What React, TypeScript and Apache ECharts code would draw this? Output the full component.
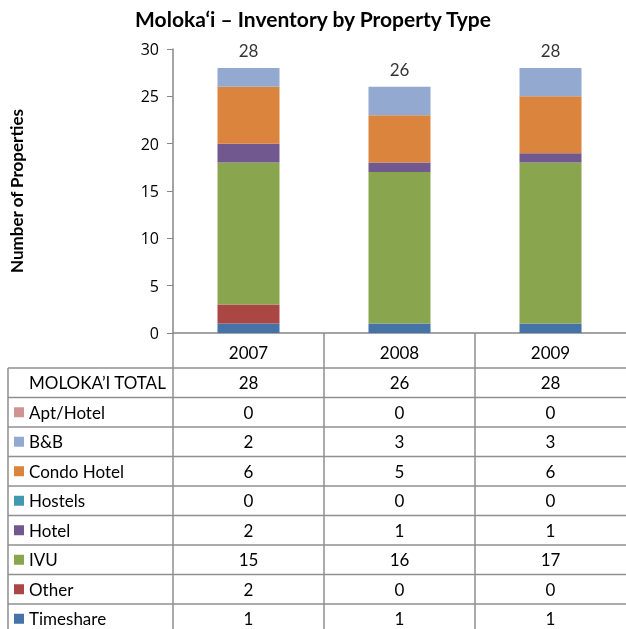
import React, { useEffect, useRef } from "react";
import * as echarts from "echarts";

const years = ["2007", "2008", "2009"];
const timeshare = [1, 1, 1];
const other = [2, 0, 0];
const ivu = [15, 16, 17];
const hotel = [2, 1, 1];
const hostels = [0, 0, 0];
const condoHotel = [6, 5, 6];
const bnb = [2, 3, 3];
const aptHotel = [0, 0, 0];
const totals = [28, 26, 28];
const totalLabel = "MOLOKA\u2019I TOTAL";

// stacking order bottom -> top
const stackNames = ["Timeshare", "Other", "IVU", "Hotel", "Hostels", "Condo Hotel", "B&B", "Apt/Hotel"];
const stackValues = [timeshare, other, ivu, hotel, hostels, condoHotel, bnb, aptHotel];
const stackColors = ["#4572A7", "#AA4643", "#89A54E", "#71588F", "#4198AF", "#DB843D", "#93A9CF", "#D19392"];

// table order (alphabetical)
const tableNames = ["Apt/Hotel", "B&B", "Condo Hotel", "Hostels", "Hotel", "IVU", "Other", "Timeshare"];

const FONT = "Lato, 'Open Sans', sans-serif";
const LINE = "#8f8f8f";

export default function App() {
  const ref = useRef<HTMLDivElement>(null);
  useEffect(() => {
    if (!ref.current) return;
    const chart = echarts.init(ref.current, null, { renderer: "svg" });
    const gridLeft = 172;
    const gridTop = 49;
    const gridBottom = 296;
    const option: any = {
      animation: false,
      textStyle: { fontFamily: FONT },
      title: {
        text: "Moloka\u2018i \u2013 Inventory by Property Type",
        left: "center",
        top: 3,
        textStyle: { fontFamily: FONT, fontSize: 21, fontWeight: "bold", color: "#000" },
      },
      grid: { left: gridLeft, top: gridTop, bottom: gridBottom, right: 0, containLabel: false },
      xAxis: {
        type: "category",
        data: years,
        axisLine: { show: true, lineStyle: { color: "#868686", width: 1.5 } },
        axisTick: { show: false },
        axisLabel: { fontSize: 17, color: "#000", margin: 11, fontFamily: FONT },
      },
      yAxis: {
        type: "value",
        min: 0,
        max: 30,
        interval: 5,
        name: "Number of Properties",
        nameLocation: "middle",
        nameRotate: 90,
        nameGap: 148,
        nameTextStyle: { fontFamily: FONT, fontSize: 17, fontWeight: "bold", color: "#000" },
        splitLine: { show: false },
        axisLine: { show: true, lineStyle: { color: "#868686", width: 1.5 } },
        axisTick: { show: true, length: 6, lineStyle: { color: "#868686" } },
        axisLabel: { fontSize: 16, color: "#000", margin: 14, fontFamily: "'Open Sans', sans-serif" },
      },
      series: [
        ...stackNames.map((name, i) => ({
          name,
          type: "bar",
          stack: "total",
          barWidth: 62,
          data: stackValues[i],
          itemStyle: { color: stackColors[i] },
          silent: true,
        })),
        {
          name: "Total",
          type: "scatter",
          data: totals,
          symbolSize: 1,
          itemStyle: { color: "rgba(0,0,0,0)" },
          label: {
            show: true,
            position: "top",
            distance: 8,
            fontSize: 17,
            color: "#000",
            fontFamily: FONT,
          },
          silent: true,
        },
      ],
    };
    chart.setOption(option);

    const xs = years.map((_, i) => chart.convertToPixel({ xAxisIndex: 0 }, i) as number);
    const band = xs.length > 1 ? xs[1] - xs[0] : 150;
    const bounds = [xs[0] - band / 2, ...xs.slice(0, -1).map((x, i) => (x + xs[i + 1]) / 2)];
    const axisY = chart.convertToPixel({ yAxisIndex: 0 }, 0) as number;

    const W = 626;
    const H = 629;
    const tableLeft = 8;
    const firstRowTop = 368;
    const rowH = 29.5;
    const rowLabels = [totalLabel, ...tableNames];
    const rowValues = [totals, ...tableNames.map((n) => stackValues[stackNames.indexOf(n)])];

    const graphics: any[] = [];
    bounds.forEach((bx) => {
      graphics.push({
        type: "line",
        shape: { x1: bx, y1: axisY, x2: bx, y2: H },
        style: { stroke: LINE, lineWidth: 1.5 },
        silent: true,
      });
    });
    graphics.push({
      type: "line",
      shape: { x1: tableLeft, y1: firstRowTop, x2: tableLeft, y2: H },
      style: { stroke: LINE, lineWidth: 1.5 },
      silent: true,
    });
    for (let r = 0; r <= rowLabels.length; r++) {
      const y = firstRowTop + r * rowH;
      if (y > H) break;
      graphics.push({
        type: "line",
        shape: { x1: tableLeft, y1: y, x2: W, y2: y },
        style: { stroke: LINE, lineWidth: 1.5 },
        silent: true,
      });
    }
    rowLabels.forEach((label, r) => {
      const cy = firstRowTop + r * rowH + rowH / 2;
      if (r > 0) {
        const name = tableNames[r - 1];
        graphics.push({
          type: "rect",
          shape: { x: 14, y: cy - 5, width: 10, height: 10 },
          style: { fill: stackColors[stackNames.indexOf(name)] },
          silent: true,
        });
      }
      graphics.push({
        type: "text",
        x: 29,
        y: cy,
        style: { text: label, fontSize: 17, fontFamily: FONT, fill: "#000", verticalAlign: "middle", align: "left" },
        silent: true,
      });
      rowValues[r].forEach((v, c) => {
        graphics.push({
          type: "text",
          x: xs[c],
          y: cy,
          style: { text: String(v), fontSize: 17, fontFamily: FONT, fill: "#000", verticalAlign: "middle", align: "center" },
          silent: true,
        });
      });
    });
    chart.setOption({ graphic: graphics });

    return () => chart.dispose();
  }, []);
  return <div ref={ref} style={{ position: "fixed", left: 0, top: 0, width: 626, height: 629 }} />;
}
